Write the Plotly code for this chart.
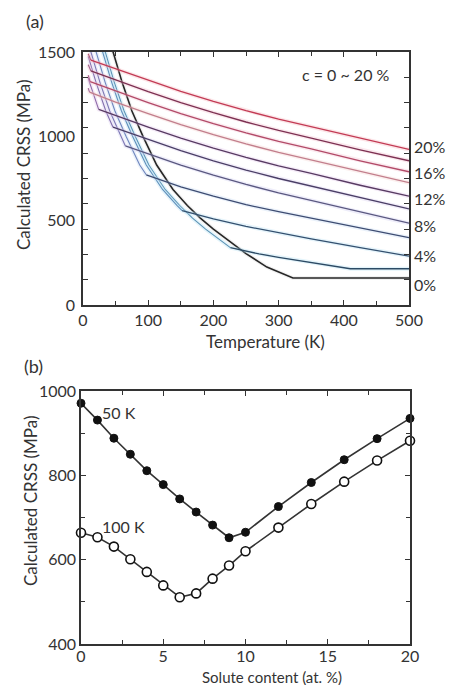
import plotly.graph_objects as go

# ---------------- Panel (a): calculated CRSS vs temperature ----------------
compositions = [0, 2, 4, 6, 8, 10, 12, 14, 16, 18, 20]   # at. %

T_c0 = [40, 46, 60, 75, 92, 113, 138, 160, 180, 200, 225, 250, 282, 322, 500]
Y_c0 = [1580, 1500, 1320, 1150, 1000, 830, 685, 590, 515, 450, 375, 305, 225, 160, 160]

T_c2 = [28, 34, 48, 63, 80, 101, 126, 148, 168, 188, 213, 226, 270, 300, 350, 410, 500]
Y_c2 = [1580, 1500, 1320, 1150, 1000, 830, 685, 590, 515, 450, 375, 340, 303, 283, 253, 215, 215]

T_c4 = [24, 30, 44, 59, 76, 97, 122, 144, 152, 200, 250, 300, 350, 425, 500]
Y_c4 = [1580, 1500, 1320, 1150, 1000, 830, 685, 590, 560, 510, 466, 428, 392, 340, 290]

T_c6 = [14, 20, 34, 49, 66, 87, 97, 150, 200, 250, 300, 350, 425, 500]
Y_c6 = [1580, 1500, 1320, 1150, 1000, 830, 772, 700, 645, 595, 553, 515, 457, 399]

T_c8 = [6, 12, 26, 41, 58, 65, 100, 150, 200, 250, 300, 350, 425, 500]
Y_c8 = [1580, 1500, 1320, 1150, 1000, 943, 895, 830, 770, 715, 665, 620, 550, 485]

T_c10 = [8, 20, 35, 46, 100, 150, 200, 250, 300, 350, 425, 500]
Y_c10 = [1474, 1320, 1150, 1054, 980, 915, 855, 800, 750, 705, 635, 570]

T_c12 = [8, 10, 24, 50, 100, 150, 200, 250, 300, 350, 425, 500]
Y_c12 = [1346, 1320, 1160, 1123, 1055, 990, 930, 875, 825, 780, 710, 645]

T_c14 = [8, 10, 50, 100, 150, 200, 250, 300, 350, 425, 500]
Y_c14 = [1286, 1262, 1203, 1135, 1070, 1010, 955, 905, 860, 790, 725]

T_c16 = [8, 11, 50, 100, 150, 200, 250, 300, 350, 425, 500]
Y_c16 = [1362, 1324, 1268, 1200, 1135, 1075, 1020, 970, 925, 855, 790]

T_c18 = [8, 12, 50, 100, 150, 200, 250, 300, 350, 425, 500]
Y_c18 = [1425, 1388, 1333, 1265, 1200, 1140, 1085, 1035, 990, 920, 855]

T_c20 = [8, 12, 50, 100, 150, 200, 250, 300, 350, 425, 500]
Y_c20 = [1490, 1452, 1400, 1332, 1267, 1207, 1152, 1102, 1057, 987, 922]

# temperature where each curve switches from the steep to the gentle branch
kink_T = [500, 226, 152, 97, 65, 46, 24, 10, 11, 12, 12]

curves_T = [T_c0, T_c2, T_c4, T_c6, T_c8, T_c10, T_c12, T_c14, T_c16, T_c18, T_c20]
curves_Y = [Y_c0, Y_c2, Y_c4, Y_c6, Y_c8, Y_c10, Y_c12, Y_c14, Y_c16, Y_c18, Y_c20]

right_labels = ["20%", "16%", "12%", "8%", "4%", "0%"]

# ---------------- Panel (b): CRSS vs solute content ----------------
solute = [0, 1, 2, 3, 4, 5, 6, 7, 8, 9, 10, 12, 14, 16, 18, 20]
crss_50K = [971, 931, 888, 850, 811, 778, 744, 713, 682, 652, 665, 726, 783, 837, 887, 935]
crss_100K = [664, 653, 631, 601, 571, 539, 511, 520, 555, 586, 620, 676, 732, 785, 835, 882]

# ---------------- styling ----------------
FONT = "Lato"
INK = "#333333"
core_colors = ["#262626", "#2c4a64", "#33506f", "#3d4c72", "#5a5880", "#4a3e66",
               "#573a62", "#c27e8c", "#b24a68", "#7c3052", "#c23a54"]
steep_colors = ["#262626", "#5a92b4", "#5f90bc", "#6f86be", "#7d78b4", "#8370ae",
                "#8d6aa8", "#a06a9e", "#a85f8e", "#9a5a86", "#b05a7a"]
halo_colors = ["#d8d8d8", "#b4e2f4", "#b8e0f4", "#c4d8f2", "#cfcdf2", "#d8ccf0",
               "#e4c8ec", "#f6d4d0", "#f6c6d4", "#f4bece", "#f8b8c0"]

fig = go.Figure()

for i, c in enumerate(compositions):
    T = curves_T[i]
    Y = curves_Y[i]
    k = kink_T[i]
    steepT = [t for t in T if t <= k]
    steepY = [y for t, y in zip(T, Y) if t <= k]
    gentT = [t for t in T if t >= k]
    gentY = [y for t, y in zip(T, Y) if t >= k]
    # soft halo
    fig.add_trace(go.Scatter(x=T, y=Y, mode="lines", xaxis="x", yaxis="y",
                             line=dict(color=halo_colors[i], width=4), opacity=0.35,
                             hoverinfo="skip", showlegend=False))
    if c == 0:
        fig.add_trace(go.Scatter(x=T, y=Y, mode="lines", xaxis="x", yaxis="y",
                                 line=dict(color=core_colors[i], width=1.6),
                                 name="0%", showlegend=False))
        continue
    fig.add_trace(go.Scatter(x=steepT, y=steepY, mode="lines", xaxis="x", yaxis="y",
                             line=dict(color=steep_colors[i], width=1.1),
                             name=f"{c}% (low T)", showlegend=False))
    fig.add_trace(go.Scatter(x=gentT, y=gentY, mode="lines", xaxis="x", yaxis="y",
                             line=dict(color=core_colors[i], width=1.3),
                             name=f"{c}%", showlegend=False))

# panel (b)
fig.add_trace(go.Scatter(x=solute, y=crss_50K, mode="lines+markers", xaxis="x2", yaxis="y2",
                         line=dict(color=INK, width=1.6),
                         marker=dict(symbol="circle", size=8, color="#111111",
                                     line=dict(color="#111111", width=1)),
                         cliponaxis=False, name="50 K", showlegend=False))
fig.add_trace(go.Scatter(x=solute, y=crss_100K, mode="lines+markers", xaxis="x2", yaxis="y2",
                         line=dict(color=INK, width=1.6),
                         marker=dict(symbol="circle", size=9, color="white",
                                     line=dict(color="#111111", width=1.6)),
                         cliponaxis=False, name="100 K", showlegend=False))

W, H = 449, 685

def px_x(p):
    return p / W

def px_y(p):
    return 1 - p / H

axis_common = dict(showline=True, linecolor=INK, linewidth=1.5, mirror="ticks",
                   ticks="inside", tickcolor=INK, tickwidth=1.2, showgrid=False,
                   zeroline=False, automargin=False,
                   tickfont=dict(family=FONT, size=16, color=INK))

fig.update_layout(
    template="none",
    width=W, height=H, autosize=False,
    margin=dict(l=0, r=0, t=0, b=0, pad=0, autoexpand=False),
    paper_bgcolor="white", plot_bgcolor="white",
    font=dict(family=FONT, color=INK),
    showlegend=False,
    xaxis=dict(domain=[px_x(83), px_x(409)], range=[0, 500], anchor="y",
               tickvals=[0, 100, 200, 300, 400, 500], ticklen=5,
               minor=dict(tickmode="linear", tick0=0, dtick=50, ticklen=4,
                          ticks="inside", tickcolor=INK, tickwidth=1.2),
               **axis_common),
    yaxis=dict(domain=[px_y(305), px_y(52)], range=[0, 1500], anchor="x",
               tickvals=[0, 500, 1000, 1500], ticklen=0, ticklabelstandoff=3,
               minor=dict(tickmode="linear", tick0=0, dtick=150, ticklen=5,
                          ticks="inside", tickcolor=INK, tickwidth=1.2),
               **axis_common),
    xaxis2=dict(domain=[px_x(81), px_x(410)], range=[0, 20], anchor="y2",
                tickvals=[0, 5, 10, 15, 20], ticklen=5, ticklabelstandoff=-3,
                minor=dict(tickmode="linear", tick0=0, dtick=2.5, ticklen=4,
                           ticks="inside", tickcolor=INK, tickwidth=1.2),
                **axis_common),
    yaxis2=dict(domain=[px_y(644), px_y(391)], range=[400, 1000], anchor="x2",
                tickvals=[400, 600, 800, 1000], ticklen=5,
                minor=dict(tickmode="linear", tick0=400, dtick=100, ticklen=4,
                           ticks="inside", tickcolor=INK, tickwidth=1.2),
                **axis_common),
)

ann = []
def paper_text(text, x, y, size=17, angle=0, xanchor="center"):
    ann.append(dict(text=text, x=px_x(x), y=px_y(y), xref="paper", yref="paper",
                    showarrow=False, textangle=angle, xanchor=xanchor, yanchor="middle",
                    font=dict(family=FONT, size=size, color=INK)))

paper_text("(a)", 35, 21, size=18)
paper_text("(b)", 33, 366, size=18)
paper_text("Calculated CRSS (MPa)", 23, 165, angle=-90)
paper_text("Calculated CRSS (MPa)", 30, 501, angle=-90)
paper_text("Temperature (K)", 265, 341)
paper_text("Solute content (at. %)", 272, 677, size=15)
paper_text("c = 0 ~ 20 %", 346, 74, size=16)
paper_text("50 K", 119, 412, size=16)
paper_text("100 K", 124, 526, size=16)

label_px_y = [147, 173, 199, 226, 255, 284]
for txt, py in zip(right_labels, label_px_y):
    paper_text(txt, 412, py, size=16, xanchor="left")

fig.update_layout(annotations=ann)
fig.write_html("out.html")
